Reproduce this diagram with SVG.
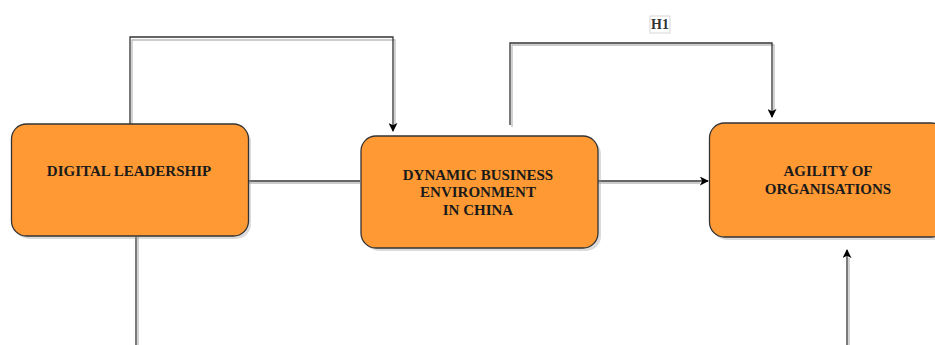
<svg xmlns="http://www.w3.org/2000/svg" width="935" height="345" viewBox="0 0 935 345">
<style>
.box{fill:#FF9933;stroke:#333;stroke-width:1.3}
.shadow{fill:#999;opacity:0.35}
.lbl{font-family:"Liberation Serif",serif;font-weight:bold;font-size:15px;fill:#1a1a1a;text-anchor:middle}
.ln{fill:none;stroke:#333;stroke-width:1.3}
.lns{fill:none;stroke:#bbb;stroke-width:1.3}
</style>
<defs>
<marker id="arr" viewBox="0 0 10 10" refX="9" refY="5" markerWidth="9" markerHeight="9" markerUnits="userSpaceOnUse" orient="auto">
<path d="M0,0 L10,5 L0,10 L2.5,5 Z" fill="#000"/>
</marker>
</defs>
<g id="connectors">
<path class="lns" d="M132,126 V40 H395 V126"/>
<path class="ln" d="M130,124 V37 H393 V131" marker-end="url(#arr)"/>
<path class="lns" d="M512,127 V45 H774 V112"/>
<path class="ln" d="M510,125 V43 H772 V117" marker-end="url(#arr)"/>
<path class="lns" d="M249,183 H360"/>
<path class="ln" d="M249,181 H360"/>
<path class="lns" d="M598,183 H700"/>
<path class="ln" d="M598,181 H708" marker-end="url(#arr)"/>
<path class="lns" d="M138,237 V345"/>
<path class="ln" d="M136,237 V345"/>
<path class="lns" d="M849,345 V258"/>
<path class="ln" d="M847,345 V250" marker-end="url(#arr)"/>
<g id="h1">
<rect x="650" y="16" width="20" height="17" fill="#fff" stroke="#ccc" stroke-width="0.8"/>
<text x="660" y="29" class="lbl" style="font-size:14px;fill:#333">H1</text>
</g>
</g>
<g id="digital-leadership">
<rect class="shadow" x="14" y="127" width="237" height="112" rx="15"/>
<rect class="box" x="11.5" y="124" width="237" height="112" rx="15"/>
<text class="lbl" x="129" y="176">DIGITAL LEADERSHIP</text>
</g>
<g id="dynamic-business">
<rect class="shadow" x="364" y="139" width="237" height="112" rx="15"/>
<rect class="box" x="361" y="136" width="237" height="112" rx="15"/>
<text class="lbl" x="478" y="180">DYNAMIC BUSINESS</text>
<text class="lbl" x="478" y="197">ENVIRONMENT</text>
<text class="lbl" x="478" y="215">IN CHINA</text>
</g>
<g id="agility">
<rect class="shadow" x="712" y="126" width="237" height="114" rx="15"/>
<rect class="box" x="709.5" y="123" width="237" height="114" rx="15"/>
<text class="lbl" x="828" y="176">AGILITY OF</text>
<text class="lbl" x="828" y="194">ORGANISATIONS</text>
</g>
</svg>
